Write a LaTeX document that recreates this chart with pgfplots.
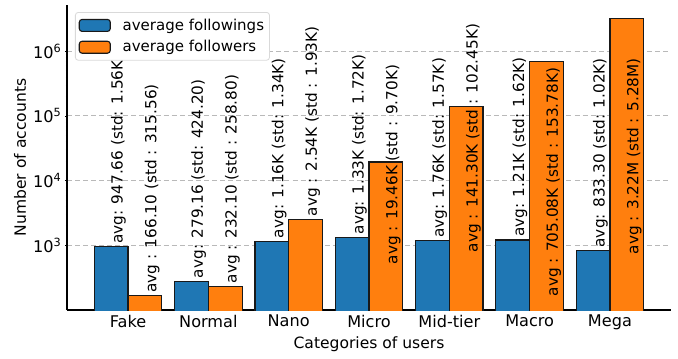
\documentclass[border=0pt]{standalone}
\usepackage{pgfplots}
\pgfplotsset{compat=1.18}
\usepackage{fontspec}
\setmainfont{DejaVu Sans}
\definecolor{cA}{RGB}{31,119,180}
\definecolor{cB}{RGB}{255,127,14}
\begin{document}
\begin{tikzpicture}
\begin{axis}[
  at={(0,0)}, anchor=south west,
  scale only axis, width=434.88pt, height=219.6pt,
  xmin=-0.76, xmax=6.76,
  ymode=log, ymin=100, ymax=5.2e6,
  axis x line*=bottom, axis y line*=left,
  axis line style={-, line width=0.8pt},
  ybar,
  xtick={0,1,2,3,4,5,6},
  xticklabels={Fake,Normal,Nano,Micro,Mid-tier,Macro,Mega},
  major x tick style={draw=none},
  ytick={1000,10000,100000,1000000},
  yticklabels={10\textsuperscript{3},10\textsuperscript{4},10\textsuperscript{5},10\textsuperscript{6}},
  tick align=outside, major tick length=1.3pt, minor tick length=0.8pt,
  tick style={line width=0.6pt, black},
  ymajorgrids,
  grid style={gray!55, line width=0.7pt, dash pattern=on 3.6pt off 2.2pt},
  ticklabel style={font=\fontsize{11.6}{13.5}\selectfont},
  yticklabel style={inner xsep=0pt, xshift=-2.4pt},
  xticklabel style={inner ysep=0pt, yshift=-2.2pt},
  xlabel={Categories of users},
  ylabel={Number of accounts},
  label style={font=\fontsize{11.2}{13}\selectfont},
  xlabel style={at={(axis description cs:0.5,-0.113)}, anchor=center},
  ylabel style={at={(axis description cs:-0.0778,0.5)}, anchor=center, rotate=0},
  legend style={at={(axis description cs:0.01325,0.977)}, anchor=north west,
    draw=gray!30, rounded corners=2pt, fill=white, line width=0.6pt,
    inner xsep=2.4pt, inner ysep=3pt, row sep=3pt,
    nodes={inner sep=1.5pt},
    font=\fontsize{10.8}{12.9}\selectfont,
    /tikz/every odd column/.append style={column sep=7pt}},
  legend cell align=left,
]
\addplot[fill=cA, draw=black!90, line width=0.8pt, bar width=0.42, bar shift=-0.21,
  legend image code/.code={\draw[fill=cA, draw=black!90, line width=0.8pt] (0pt,-4.3pt) rectangle (22.3pt,4.3pt);}]
  coordinates {(0,947.66) (1,279.16) (2,1160) (3,1330) (4,1170) (5,1210) (6,833.30)};
\addlegendentry{average followings}
\addplot[fill=cB, draw=black!90, line width=0.8pt, bar width=0.42, bar shift=0.21,
  legend image code/.code={\draw[fill=cB, draw=black!90, line width=0.8pt] (0pt,-4.3pt) rectangle (22.3pt,4.3pt);}]
  coordinates {(0,166.10) (1,232.10) (2,2540) (3,19460) (4,141300) (5,705080) (6,3220000)};
\addlegendentry{average followers}
\tikzset{lbl/.style={rotate=90, anchor=west, inner ysep=0pt, inner xsep=2pt, font=\fontsize{11}{13}\selectfont}}
\node[lbl] at (axis cs:-0.12,947.66) {avg: 947.66 (std: 1.56K)};
\node[lbl] at (axis cs:0.88,279.16) {avg: 279.16 (std: 424.20)};
\node[lbl] at (axis cs:1.88,1160) {avg: 1.16K (std: 1.34K)};
\node[lbl] at (axis cs:2.88,1330) {avg: 1.33K (std: 1.72K)};
\node[lbl] at (axis cs:3.88,1170) {avg: 1.76K (std: 1.57K)};
\node[lbl] at (axis cs:4.88,1210) {avg: 1.21K (std: 1.62K)};
\node[lbl] at (axis cs:5.88,833.30) {avg: 833.30 (std: 1.02K)};
\node[lbl] at (axis cs:0.30,166.10) {avg : 166.10 (std : 315.56)};
\node[lbl] at (axis cs:1.30,232.10) {avg : 232.10 (std : 258.80)};
\node[lbl] at (axis cs:2.30,2540) {avg : 2.54K (std : 1.93K)};
\node[lbl] at (axis cs:3.30,457) {avg : 19.46K (std : 9.70K)};
\node[lbl] at (axis cs:4.30,700) {avg : 141.30K (std : 102.45K)};
\node[lbl] at (axis cs:5.30,146) {avg : 705.08K (std : 153.78K)};
\node[lbl] at (axis cs:6.30,652) {avg : 3.22M (std : 5.28M)};
\end{axis}
\pgfresetboundingbox
\path[use as bounding box] (-48.24pt,-34.56pt) rectangle (439.92pt,223.2pt);
\end{tikzpicture}
\end{document}
